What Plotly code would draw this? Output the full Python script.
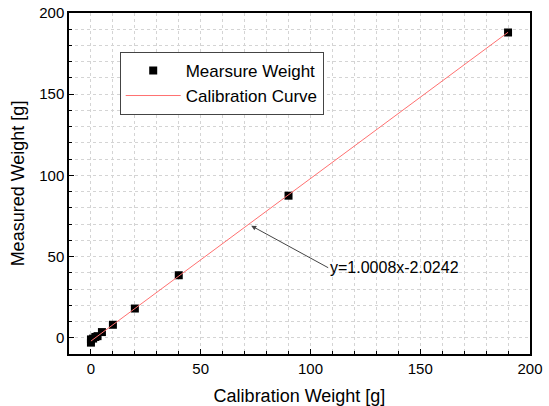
import plotly.graph_objects as go

calib_weight = [0, 0, 1, 2, 3, 5, 10, 20, 40, 90, 190]
measured_weight = [-3, -1, -0.5, 0.5, 1, 3.5, 8, 18, 38.5, 87.5, 188]
fit_x = [0, 190]
slope = 1.0008
intercept = -2.0242
fit_y = [slope * x + intercept for x in fit_x]

fig = go.Figure()
fig.add_trace(go.Scatter(x=calib_weight, y=measured_weight, mode="markers",
                         name="Mearsure Weight",
                         marker=dict(symbol="square", size=8, color="black")))
fig.add_trace(go.Scatter(x=fit_x, y=fit_y, mode="lines", name="Calibration Curve",
                         line=dict(color="#ff7070", width=1)))

axis_common = dict(
    showline=True, linecolor="black", linewidth=1.5, mirror=True,
    ticks="inside", ticklen=5, tickcolor="black", dtick=50,
    showgrid=True, gridcolor="#d4d4d4", griddash="dot", gridwidth=1,
    zeroline=False, tickfont=dict(size=15, color="black"), automargin=False,
    minor=dict(ticks="inside", ticklen=3, dtick=10, tickcolor="black",
               showgrid=True, gridcolor="#d4d4d4", griddash="dot"),
)

fig.update_xaxes(range=[-10, 200], title=dict(text="Calibration Weight [g]", font=dict(size=18, color="black"), standoff=14), **axis_common)
fig.update_yaxes(range=[-10, 200], title=dict(text="Measured Weight [g]", font=dict(size=18, color="black"), standoff=10), **axis_common)

fig.add_annotation(x=73, y=69, xref="x", yref="y", ax=77, ay=42,
                   text="y=1.0008x-2.0242", showarrow=True, arrowhead=2,
                   arrowsize=1, arrowwidth=1, arrowcolor="#444444",
                   xanchor="left", yanchor="middle",
                   font=dict(size=16, color="black"))

fig.update_layout(
    width=549, height=406,
    margin=dict(l=69, r=19, t=13, b=52),
    plot_bgcolor="white", paper_bgcolor="white",
    font=dict(family="Liberation Sans, Arial, sans-serif", color="black"),
    legend=dict(x=0.11, y=0.886, xanchor="left", yanchor="top",
                bordercolor="#444444", borderwidth=1, bgcolor="white",
                itemwidth=55,
                font=dict(size=17, color="black"), tracegroupgap=0),
    showlegend=True,
)

fig.write_html("out.html", config={"displayModeBar": False},
               post_script="document.body.style.margin='0';document.body.style.overflow='hidden';")
